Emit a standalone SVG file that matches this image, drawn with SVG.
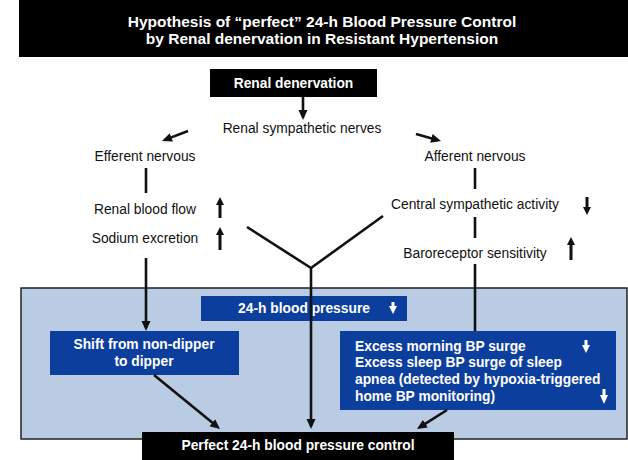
<svg xmlns="http://www.w3.org/2000/svg" width="628" height="460" viewBox="0 0 628 460">
<defs>
<style>
text{font-family:"Liberation Sans",Arial,sans-serif;font-size:13.8px;fill:#111}
.b{font-weight:bold;fill:#fff}
.t{font-size:15.5px}
.c{text-anchor:middle}
.ln{stroke:#111;stroke-width:2.6;fill:none}
.ar{marker-end:url(#ah)}
.blk{fill:#000}
.blue{fill:#0c3e9d}
.ind{fill:#111}
.wind{fill:#fff}
</style>
<marker id="ah" markerUnits="userSpaceOnUse" markerWidth="12" markerHeight="10" refX="7" refY="4.5" orient="auto">
<path d="M0,0 L10,4.5 L0,9 Z" fill="#111"/>
</marker>
</defs>
<rect width="628" height="460" fill="#fff"/>
<g id="title">
<rect class="blk" x="19" y="0" width="609" height="57"/>
<text class="b t c" x="322" y="27">Hypothesis of “perfect” 24-h Blood Pressure Control</text>
<text class="b t c" x="322" y="44">by Renal denervation in Resistant Hypertension</text>
</g>
<g id="panel">
<rect x="21" y="288" width="606" height="151" fill="#b9cce4" stroke="#222" stroke-width="1.5"/>
</g>
<g id="renal-denervation">
<rect class="blk" x="210" y="69" width="167" height="28"/>
<text class="b c" x="293.5" y="88">Renal denervation</text>
</g>
<g id="renal-sympathetic">
<text class="c" x="302" y="133">Renal sympathetic nerves</text>
</g>
<g id="efferent"><text class="c" x="145" y="161">Efferent nervous</text></g>
<g id="afferent"><text class="c" x="475" y="161">Afferent nervous</text></g>
<g id="renal-blood-flow">
<text class="c" x="145" y="214">Renal blood flow</text>
<path class="ind" d="M220,197 L224,205 L221.5,205 L221.5,218 L218.5,218 L218.5,205 L216,205 Z"/>
</g>
<g id="sodium-excretion">
<text class="c" x="145" y="243">Sodium excretion</text>
<path class="ind" d="M220,227 L224,235 L221.5,235 L221.5,250 L218.5,250 L218.5,235 L216,235 Z"/>
</g>
<g id="central-sympathetic">
<text class="c" x="475" y="209">Central sympathetic activity</text>
<path class="ind" d="M587,215 L583,207 L585.5,207 L585.5,197 L588.5,197 L588.5,207 L591,207 Z"/>
</g>
<g id="baroreceptor">
<text class="c" x="475" y="258">Baroreceptor sensitivity</text>
<path class="ind" d="M571,237 L575,245 L572.5,245 L572.5,260 L569.5,260 L569.5,245 L567,245 Z"/>
</g>
<g id="bp24">
<rect class="blue" x="201" y="296" width="206" height="25"/>
<text class="b c" x="304" y="313">24-h blood pressure</text>
<path class="wind" d="M393,314 L389,306 L391.5,306 L391.5,302 L394.5,302 L394.5,306 L397,306 Z"/>
</g>
<g id="shift">
<rect class="blue" x="50" y="331" width="189" height="44"/>
<text class="b c" x="144" y="349">Shift from non-dipper</text>
<text class="b c" x="144" y="366">to dipper</text>
</g>
<g id="excess">
<rect class="blue" x="340" y="331" width="276" height="79"/>
<text class="b" x="355" y="351">Excess morning BP surge</text>
<text class="b" x="355" y="367">Excess sleep BP surge of sleep</text>
<text class="b" x="355" y="384">apnea (detected by hypoxia-triggered</text>
<text class="b" x="355" y="401">home BP monitoring)</text>
<path class="wind" d="M586,353 L582,345 L584.5,345 L584.5,340 L587.5,340 L587.5,345 L590,345 Z"/>
<path class="wind" d="M604,404 L600,395 L602.5,395 L602.5,389 L605.5,389 L605.5,395 L608,395 Z"/>
</g>
<g id="perfect">
<rect class="blk" x="142" y="432" width="312" height="28"/>
<text class="b c" x="298" y="450">Perfect 24-h blood pressure control</text>
</g>
<g id="connectors">
<line class="ln ar" x1="303" y1="97" x2="303" y2="117"/>
<line class="ln ar" x1="188" y1="131" x2="164.8" y2="139.9"/>
<line class="ln ar" x1="416" y1="134" x2="438.1" y2="140.2"/>
<line class="ln" x1="146" y1="168" x2="146" y2="193"/>
<line class="ln ar" x1="146" y1="258" x2="146" y2="328"/>
<polyline class="ln" points="247,227 311,268 383,216"/>
<line class="ln ar" x1="311" y1="267" x2="311" y2="426"/>
<line class="ln" x1="475" y1="168" x2="475" y2="189"/>
<line class="ln" x1="475" y1="217" x2="475" y2="238"/>
<line class="ln" x1="475" y1="264" x2="475" y2="331"/>
<line class="ln ar" x1="154" y1="375" x2="217.7" y2="427.1"/>
<line class="ln ar" x1="447" y1="410" x2="419.5" y2="427.4"/>
</g>
</svg>
